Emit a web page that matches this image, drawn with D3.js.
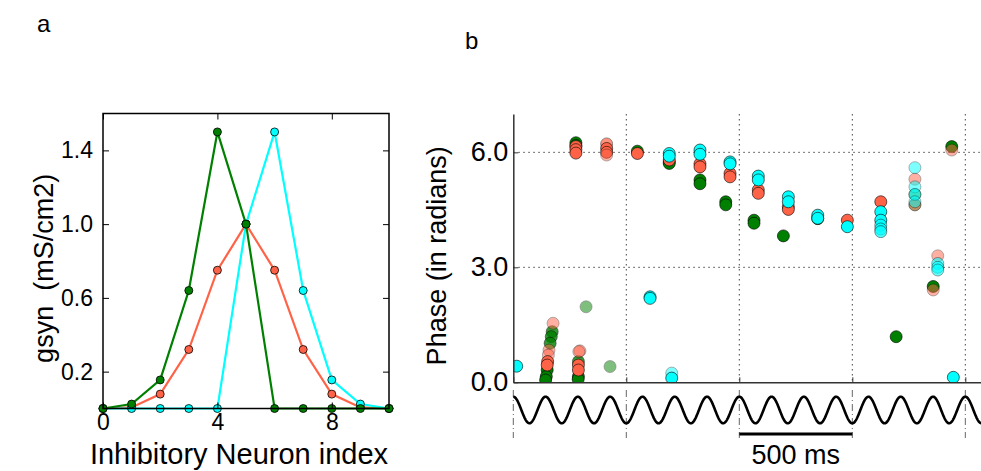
<!DOCTYPE html>
<html>
<head>
<meta charset="utf-8">
<script src="https://cdn.jsdelivr.net/npm/d3@7"></script>
<style>
  body { margin: 0; background: #fff; }
  svg { font-family: "Liberation Sans", Arial, sans-serif; }
  .grid { stroke: #444; stroke-width: 1; stroke-dasharray: 1.5,3.5; }
</style>
</head>
<body>
<div id="chart"></div>
<script>
// panel a: synaptic conductance profiles
const neuronIndex = [0, 1, 2, 3, 4, 5, 6, 7, 8, 9, 10];
const gsynGreen = [0, 0.024, 0.155, 0.64, 1.5, 1.0, 0, 0, 0, 0, 0];
const gsynRed   = [0, 0.006, 0.078, 0.32, 0.75, 1.0, 0.75, 0.32, 0.078, 0.006, 0];
const gsynCyan  = [0, 0, 0, 0, 0, 1.0, 1.5, 0.64, 0.155, 0.024, 0];
const gsynTicks = [0.2, 0.6, 1.0, 1.4];
const indexTicks = [0, 4, 8];

// panel b: spike phases [time ms, phase rad, alpha]
const spikesGreen = [
  [277, 6.25, 1], [277, 6.18, 1], [549, 6.03, 1],
  [690, 5.75, 1], [690, 5.71, 1], [826, 5.28, 1], [826, 5.18, 1],
  [940, 4.71, 1], [940, 4.63, 1], [1065, 4.23, 1], [1065, 4.15, 1],
  [1195, 3.82, 1], [1347, 4.27, 1], [1694, 1.19, 1], [1940, 6.15, 1],
  [1858, 2.50, 1], [322, 1.97, 0.5], [428, 0.41, 0.5],
  [172, 1.32, 0.8], [168, 1.19, 0.8], [163, 1.02, 0.8],
  [150, 0.32, 1], [146, 0.15, 1], [143, 0.06, 1],
  [288, 0.54, 0.8], [288, 0.15, 1], [287, 0.08, 1],
  [1777, 4.9, 0.5], [1777, 4.63, 0.5]
];
const spikesRed = [
  [277, 6.15, 1], [277, 6.07, 1], [277, 5.98, 1],
  [413, 6.22, 0.7], [413, 6.1, 1], [413, 6.0, 1], [413, 5.93, 0.5],
  [549, 5.97, 1], [690, 5.8, 1], [826, 5.7, 1], [826, 5.62, 1],
  [959, 5.45, 1], [959, 5.36, 1], [1084, 5.02, 1], [1084, 4.93, 1],
  [1217, 4.58, 1], [1217, 4.51, 1], [1478, 4.23, 1], [1626, 4.71, 1],
  [1777, 5.3, 0.5], [1777, 4.63, 0.5], [1940, 6.06, 0.5],
  [1878, 3.3, 0.5], [1858, 2.41, 0.5], [295, 0.82, 0.5],
  [176, 1.54, 0.5], [158, 0.84, 0.5], [155, 0.71, 0.5], [152, 0.54, 1], [150, 0.45, 1],
  [290, 0.8, 0.5], [288, 0.45, 1], [288, 0.32, 1]
];
const spikesCyan = [
  [15, 0.42, 1], [605, 2.23, 1], [605, 2.19, 1], [701, 0.24, 0.5], [701, 0.11, 1],
  [690, 5.97, 1], [690, 5.9, 1], [826, 6.06, 1], [826, 5.95, 1],
  [959, 5.75, 1], [959, 5.7, 1], [1084, 5.38, 1], [1084, 5.28, 1],
  [1217, 4.84, 1], [1217, 4.71, 1], [1347, 4.36, 1], [1347, 4.28, 1],
  [1478, 4.06, 1], [1626, 4.45, 1], [1626, 4.23, 1], [1626, 4.1, 0.7],
  [1626, 4.0, 0.7], [1626, 3.93, 0.7],
  [1777, 5.6, 0.5], [1777, 5.1, 0.5], [1777, 4.9, 0.6], [1777, 4.71, 0.5],
  [1878, 3.1, 0.6], [1878, 3.0, 0.6], [1878, 2.93, 0.6], [1947, 0.13, 1]
];
const phaseTicks = [0, 3, 6];
const timeTicks = [0, 500, 1000, 1500, 2000];
const thetaHz = 7;

const W = 981, H = 471;
const svg = d3.select('#chart').append('svg')
    .attr('width', W).attr('height', H);

// ---------- panel a ----------
const xa = d3.scaleLinear().domain([0, 10]).range([103, 389]);
const ya = d3.scaleLinear().domain([0, 1.6]).range([408.5, 113.5]);

const ga = svg.append('g');
const series = [
  {vals: gsynRed, color: '#ff6347'},
  {vals: gsynCyan, color: '#00ffff'},
  {vals: gsynGreen, color: '#008000'}
];
const line = d3.line().x((d, i) => xa(neuronIndex[i])).y(d => ya(d));
series.forEach(s => {
  ga.append('path').datum(s.vals)
    .attr('d', line)
    .attr('fill', 'none')
    .attr('stroke', s.color)
    .attr('stroke-width', 2.2);
  ga.selectAll(null).data(s.vals).enter().append('circle')
    .attr('cx', (d, i) => xa(neuronIndex[i]))
    .attr('cy', d => ya(d))
    .attr('r', 4)
    .attr('fill', s.color)
    .attr('stroke', '#000')
    .attr('stroke-width', 0.8);
});

// frame + inward ticks on all sides
ga.append('rect')
  .attr('x', xa(0)).attr('y', ya(1.6))
  .attr('width', xa(10) - xa(0)).attr('height', ya(0) - ya(1.6))
  .attr('fill', 'none').attr('stroke', '#000').attr('stroke-width', 1.5);

ga.append('g').attr('transform', `translate(0,${ya(0)})`)
  .call(d3.axisBottom(xa).tickValues(indexTicks).tickSizeInner(-6).tickSizeOuter(0).tickPadding(5).tickFormat(d3.format('d')))
  .call(g => g.select('.domain').remove());
ga.append('g').attr('transform', `translate(0,${ya(1.6)})`)
  .call(d3.axisTop(xa).tickValues(indexTicks).tickSizeInner(-6).tickSizeOuter(0).tickFormat(''))
  .call(g => g.select('.domain').remove());
ga.append('g').attr('transform', `translate(${xa(0)},0)`)
  .call(d3.axisLeft(ya).tickValues(gsynTicks).tickSizeInner(-6).tickSizeOuter(0).tickPadding(10).tickFormat(d3.format('.1f')))
  .call(g => g.select('.domain').remove());
ga.append('g').attr('transform', `translate(${xa(10)},0)`)
  .call(d3.axisRight(ya).tickValues(gsynTicks).tickSizeInner(-6).tickSizeOuter(0).tickFormat(''))
  .call(g => g.select('.domain').remove());
ga.selectAll('.tick line').attr('stroke', '#000').attr('stroke-width', 1);
ga.selectAll('.tick text').attr('font-size', 23).attr('fill', '#000')
  .attr('font-family', '"Liberation Sans", Arial, sans-serif');

ga.append('text').attr('x', 239).attr('y', 464)
  .attr('text-anchor', 'middle').attr('font-size', 29)
  .text('Inhibitory Neuron index');
ga.append('text')
  .attr('transform', `translate(53,${ya(0.76)}) rotate(-90)`)
  .attr('text-anchor', 'middle').attr('font-size', 27)
  .attr('xml:space', 'preserve')
  .text('gsyn  (mS/cm2)');

svg.append('text').attr('x', 37).attr('y', 32).attr('font-size', 24).text('a');
svg.append('text').attr('x', 465).attr('y', 49).attr('font-size', 24).text('b');

// ---------- panel b ----------
const xb = d3.scaleLinear().domain([0, 2080]).range([513.3, 983.4]);
const yb = d3.scaleLinear().domain([0, 7]).range([382.3, 114]);
const gb = svg.append('g');

gb.append('defs').append('clipPath').attr('id', 'clipb')
  .append('rect')
  .attr('x', xb(0)).attr('y', yb(7))
  .attr('width', xb(2080) - xb(0)).attr('height', yb(0) - yb(7));

// grid
gb.selectAll('.hgrid').data(phaseTicks.filter(d => d > 0)).enter().append('line')
  .attr('class', 'grid')
  .attr('x1', xb(0)).attr('x2', xb(2080))
  .attr('y1', d => yb(d)).attr('y2', d => yb(d));
gb.selectAll('.vgrid').data(timeTicks.filter(d => d > 0)).enter().append('line')
  .attr('class', 'grid')
  .attr('x1', d => xb(d)).attr('x2', d => xb(d))
  .attr('y1', yb(7)).attr('y2', yb(0));

// spikes
const pts = gb.append('g').attr('clip-path', 'url(#clipb)');
[[spikesGreen, '#008000'], [spikesRed, '#ff6347'], [spikesCyan, '#00ffff']].forEach(([data, color]) => {
  pts.selectAll(null).data(data).enter().append('circle')
    .attr('cx', d => xb(d[0]))
    .attr('cy', d => yb(d[1]))
    .attr('r', 6)
    .attr('fill', color)
    .attr('stroke', '#000')
    .attr('stroke-width', 0.6)
    .attr('opacity', d => d[2]);
});

// spines and ticks
gb.append('g').attr('transform', `translate(0,${yb(0)})`)
  .call(d3.axisBottom(xb).tickValues(timeTicks).tickSizeInner(-5).tickSizeOuter(0).tickFormat(''))
  .call(g => g.select('.domain').attr('stroke', '#333').attr('stroke-width', 1.5));
gb.append('g').attr('transform', `translate(${xb(0)},0)`)
  .call(d3.axisLeft(yb).tickValues(phaseTicks).tickSizeInner(-5).tickSizeOuter(0).tickPadding(5).tickFormat(d3.format('.1f')))
  .call(g => g.select('.domain').attr('stroke', '#333').attr('stroke-width', 1.5));
gb.selectAll('.tick line').attr('stroke', '#333');
gb.selectAll('.tick text').attr('font-size', 27).attr('fill', '#000')
  .attr('font-family', '"Liberation Sans", Arial, sans-serif');

gb.append('text')
  .attr('transform', `translate(446,${yb(3.3)}) rotate(-90)`)
  .attr('text-anchor', 'middle').attr('font-size', 27)
  .text('Phase (in radians)');

// theta reference oscillation
const ys = d3.scaleLinear().domain([-1, 1]).range([423.3, 396.7]);
gb.selectAll('.sgrid').data(timeTicks).enter().append('line')
  .attr('x1', d => xb(d)).attr('x2', d => xb(d))
  .attr('y1', 390).attr('y2', 438)
  .attr('stroke', '#666').attr('stroke-width', 1)
  .attr('stroke-dasharray', '7,3,1,3');
const tSamples = d3.range(0, 2081, 2);
gb.append('path').datum(tSamples)
  .attr('d', d3.line().x(t => xb(t)).y(t => ys(Math.cos(2 * Math.PI * thetaHz * t / 1000))))
  .attr('fill', 'none').attr('stroke', '#000').attr('stroke-width', 2.6);

// scale bar
gb.append('line')
  .attr('x1', xb(1000)).attr('x2', xb(1500))
  .attr('y1', 434).attr('y2', 434)
  .attr('stroke', '#000').attr('stroke-width', 3);
gb.append('text').attr('x', xb(1250)).attr('y', 464)
  .attr('text-anchor', 'middle').attr('font-size', 27)
  .text('500 ms');
</script>
</body>
</html>
